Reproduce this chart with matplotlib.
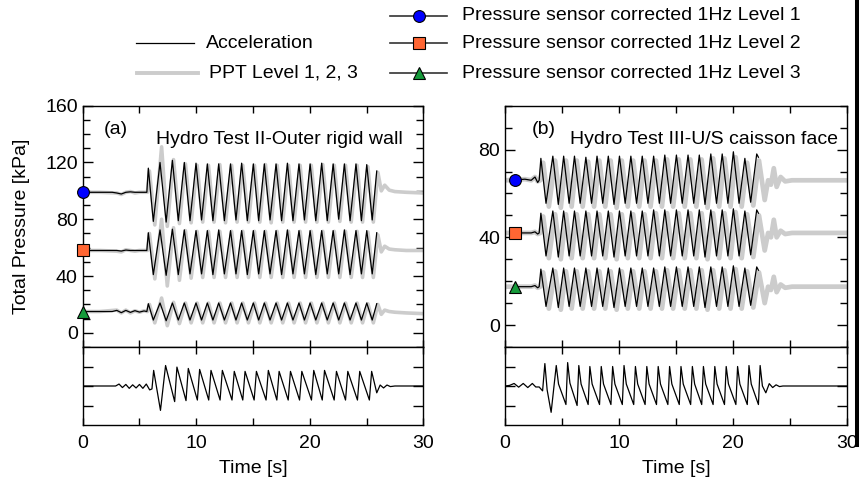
import matplotlib
matplotlib.use("Agg")
import matplotlib.pyplot as plt
from matplotlib.lines import Line2D
from matplotlib.ticker import MultipleLocator, FixedLocator, NullFormatter

plt.rcParams['font.family'] = ['Liberation Sans', 'DejaVu Sans']
plt.rcParams['font.size'] = 14

# ======================= DATA =======================
# ---- Panel (a): Hydro Test II - Outer rigid wall ----
a_pre_t  = [0.0, 2.6, 3.0, 3.4, 3.8, 4.2, 4.6, 5.0, 5.4, 5.65]
a_pre_L1 = [99, 99, 98.5, 97.8, 99, 99.3, 99, 99, 99, 99]
a_pre_L2 = [58, 58, 58, 57.6, 58.3, 58, 58, 58, 58, 58]
a_pre_L3 = [15, 15, 15.8, 14.2, 15.8, 14.4, 15.6, 14.6, 15.4, 15]
a_pk_t = [5.78, 6.81, 7.9, 8.95, 9.98, 10.98, 11.98, 13.02, 14.0, 15.03, 16.0,
          17.03, 18.03, 19.05, 20.03, 21.05, 22.06, 23.05, 24.07, 25.02, 25.9]
a_tr_t = [6.22, 7.35, 8.42, 9.45, 10.47, 11.47, 12.48, 13.5, 14.5, 15.5, 16.5,
          17.52, 18.52, 19.53, 20.53, 21.54, 22.55, 23.55, 24.55, 25.5]
a_L1_pk = [116, 120, 121.5, 120, 119.5, 119, 119, 119, 119.5, 119, 119, 119, 119.5,
           119, 119, 119.5, 119, 119, 119, 118.5, 114]
a_L1_tr = [78.5, 78, 79, 79, 79.5, 79, 79, 79.5, 79, 79, 79.5, 79, 79, 79.5, 79, 79,
           80, 79, 79, 79.5]
a_L2_pk = [70.5, 72.5, 73, 72.5, 72, 72, 72.5, 72, 72, 72, 72, 72, 72.5, 72, 72, 72,
           72, 72.5, 72, 72, 70.5]
a_L2_tr = [41, 40.5, 41, 41.5, 41.5, 41, 41.5, 41.5, 41, 41.5, 41.5, 41, 41.5, 41.5,
           41, 41.5, 41.5, 41, 41.5, 41.5]
a_L3_pk = [20.5, 21, 21, 21, 21, 21, 21, 21, 21, 21, 21, 21, 21, 21, 21, 21, 21, 21,
           21, 21, 20.5]
a_L3_tr = [9, 8.5, 9, 9, 9, 9, 9, 9, 9, 9, 9, 9, 9, 9, 9, 9, 9, 9, 9, 9]

# PPT (grey) panel (a)
ga_pre_t  = [0.0, 1.5, 3.0, 3.4, 3.8, 4.2, 4.6, 5.0, 5.4, 5.7]
ga_pre_L1 = [99, 99, 98.5, 97.5, 99, 99.5, 98.5, 99, 99, 99]
ga_pre_L2 = [58, 58, 57.5, 57, 58.5, 58, 57.5, 58, 58, 58]
ga_pre_L3 = [15, 15, 16, 14, 16, 14, 15.5, 14.5, 15.5, 15]
ga_pk_t = [5.88, 6.95, 8.0, 9.05, 10.08, 11.08, 12.08, 13.12, 14.1, 15.13, 16.1,
           17.13, 18.13, 19.15, 20.13, 21.15, 22.16, 23.15, 24.17, 25.12]
ga_tr_t = [6.35, 7.45, 8.52, 9.55, 10.57, 11.57, 12.58, 13.6, 14.6, 15.6, 16.6,
           17.62, 18.62, 19.63, 20.63, 21.64, 22.65, 23.65, 24.65, 25.6]
ga_L1_pk = [114, 131, 122, 119, 118, 118, 118.5, 118, 118, 118, 118.5, 118, 118, 118,
            118, 118.5, 118, 118, 118, 117]
ga_L1_tr = [76, 75, 77, 77.5, 78, 78, 77.5, 78, 78, 78, 77.5, 78, 78, 78, 78, 78,
            78.5, 78, 78, 78]
ga_L2_pk = [70, 80, 74, 72, 71.5, 71.5, 71.5, 71.5, 71.5, 71.5, 71.5, 71.5, 71.5,
            71.5, 71.5, 71.5, 71.5, 71.5, 71.5, 71]
ga_L2_tr = [38, 33, 37, 38.5, 39, 39, 39, 39, 39, 39, 39, 39, 39, 39, 39, 39, 39, 39,
            39, 39]
ga_L3_pk = [20, 24.5, 21.5, 21, 21, 21, 21, 21, 21, 21, 21, 21, 21, 21, 21, 21, 21,
            21, 21, 20.5]
ga_L3_tr = [7, 5, 6.5, 7, 7, 7, 7, 7, 7, 7, 7, 7, 7, 7, 7, 7, 7, 7, 7, 7]
ga_tail_t  = [26.0, 26.3, 26.6, 27.0, 27.5, 28.5, 30.0]
ga_tail_L1 = [113, 100, 104, 100.5, 99.5, 99, 98.5]
ga_tail_L2 = [69, 57, 61, 59, 58.5, 58, 58]
ga_tail_L3 = [20, 13, 16, 15, 14.5, 14, 13.5]

# Acceleration panel (a)
acc_a_pre_t = [0.0, 2.9, 3.2, 3.5, 3.8, 4.1, 4.4, 4.7, 5.0, 5.3, 5.6, 5.9, 6.1]
acc_a_pre   = [0, 0, 0.1, -0.08, 0.08, -0.12, 0.06, -0.1, 0.08, -0.12, 0.1, -0.2, -0.15]
acc_a_pk_t = [6.25, 7.3, 8.3, 9.3, 10.3, 11.3, 12.3, 13.35, 14.3, 15.3, 16.35, 17.3,
              18.3, 19.3, 20.35, 21.3, 22.35, 23.35, 24.4, 25.45]
acc_a_pk   = [0.8, 1.05, 0.97, 0.9, 0.85, 0.8, 0.8, 0.75, 0.75, 0.75, 0.8, 0.75, 0.75,
              0.75, 0.8, 0.8, 0.75, 0.75, 0.75, 0.75]
acc_a_tr_t = [6.85, 8.1, 9.1, 10.1, 11.1, 12.1, 13.15, 14.1, 15.1, 16.15, 17.1, 18.1,
              19.1, 20.15, 21.1, 22.15, 23.15, 24.2, 25.25, 25.9]
acc_a_tr   = [-1.25, -0.8, -0.75, -0.72, -0.72, -0.72, -0.72, -0.72, -0.72, -0.72,
              -0.72, -0.72, -0.72, -0.72, -0.72, -0.72, -0.72, -0.72, -0.72, -0.35]
acc_a_post_t = [26.2, 26.5, 26.8, 27.1, 27.5, 30.0]
acc_a_post   = [0.05, -0.1, 0.05, -0.03, 0, 0]

# ---- Panel (b): Hydro Test III - U/S caisson face ----
b_pre_t  = [0.88, 1.75, 2.3, 2.63, 2.87, 3.0]
b_pre_L1 = [66.2, 66.5, 66, 67.5, 65, 66]
b_pre_L2 = [42, 42, 42, 42.5, 41.5, 42]
b_pre_L3 = [17.5, 17.5, 17.5, 18, 17, 17.5]
b_pk_t = [3.15, 4.2, 5.15, 6.1, 7.1, 8.08, 9.07, 10.05, 11.05, 12.05, 13.05, 14.03,
          15.05, 16.07, 17.06, 18.07, 19.07, 20.05, 21.06, 22.1]
b_tr_t = [3.6, 4.68, 5.63, 6.6, 7.6, 8.58, 9.57, 10.55, 11.55, 12.55, 13.55, 14.54,
          15.56, 16.57, 17.56, 18.57, 19.57, 20.55, 21.57]
b_end_t = [22.25]
b_L1_pk = [76, 77, 77, 77, 76.5, 77, 77, 77, 77, 77, 77, 77.5, 77.5, 77.5, 77.5, 78,
           78, 79, 76, 78]
b_L1_tr = [55.5, 55, 55.5, 55.5, 55.5, 55.5, 55, 55.5, 55.5, 55.5, 55.5, 55.5, 55.5,
           55.5, 55, 55.5, 55.5, 55.5, 56]
b_L1_end = [76.5]
b_L2_pk = [51, 52, 52, 52, 52, 52, 52, 52, 52, 52, 52.5, 52.5, 52.5, 52.5, 52.5,
           52.5, 52.5, 53, 52, 52.5]
b_L2_tr = [31.5, 31, 31.5, 31.5, 31.5, 31.5, 31, 31.5, 31.5, 31.5, 31.5, 31.5, 31.5,
           31.5, 31, 31.5, 31.5, 31.5, 32]
b_L2_end = [51]
b_L3_pk = [25.5, 26, 26, 26, 26, 26, 26, 26, 26, 26, 26, 26.5, 26.5, 26.5, 26.5,
           26.5, 26.5, 27, 26, 26.5]
b_L3_tr = [8.5, 8, 8.5, 8.5, 8.5, 8.5, 8, 8.5, 8.5, 8.5, 8.5, 8.5, 8.5, 8.5, 8, 8.5,
           8.5, 8.5, 9]
b_L3_end = [25]

# PPT (grey) panel (b)
gb_pre_t  = [0.0, 0.88, 1.75, 2.3, 2.63, 2.87, 3.1]
gb_pre_L1 = [66, 66.2, 66.5, 66, 67.5, 65.5, 66]
gb_pre_L2 = [42, 42, 42, 42, 42.5, 41.5, 42]
gb_pre_L3 = [17.5, 17.5, 17.5, 17.5, 18, 17, 17.5]
gb_pk_t = [3.35, 4.4, 5.35, 6.3, 7.3, 8.28, 9.27, 10.25, 11.25, 12.25, 13.25, 14.23,
           15.25, 16.27, 17.26, 18.27, 19.27, 20.25, 21.26, 22.3]
gb_tr_t = [3.85, 4.9, 5.85, 6.82, 7.82, 8.8, 9.8, 10.78, 11.78, 12.78, 13.78, 14.76,
           15.78, 16.8, 17.78, 18.8, 19.8, 20.78, 21.8, 22.8]
gb_L1_pk = [74, 75, 75, 75, 74.5, 75, 75, 75, 75, 75, 75, 75.5, 75.5, 75.5, 75.5, 76,
            76, 76.5, 74, 75]
gb_L1_tr = [54, 53.5, 54, 54, 54, 54, 53.5, 54, 54, 54, 54, 54, 54, 54, 53.5, 54, 54,
            54, 54.5, 57]
gb_L2_pk = [49.5, 50.5, 50.5, 50.5, 50.5, 50.5, 50.5, 50.5, 50.5, 50.5, 51, 51, 51,
            51, 51, 51, 51, 51.5, 50.5, 50]
gb_L2_tr = [30.5, 30, 30.5, 30.5, 30.5, 30.5, 30, 30.5, 30.5, 30.5, 30.5, 30.5, 30.5,
            30.5, 30, 30.5, 30.5, 30.5, 31, 34]
gb_L3_pk = [24, 24.5, 24.5, 24.5, 24.5, 24.5, 24.5, 24.5, 24.5, 24.5, 24.5, 25, 25,
            25, 25, 25, 25, 25.5, 24.5, 24]
gb_L3_tr = [7.5, 7, 7.5, 7.5, 7.5, 7.5, 7, 7.5, 7.5, 7.5, 7.5, 7.5, 7.5, 7.5, 7, 7.5,
            7.5, 7.5, 8, 10]
gb_tail_t  = [23.1, 23.35, 23.6, 23.85, 24.2, 24.6, 25.2, 30.0]
gb_tail_L1 = [66, 64, 71.5, 63, 67.5, 65.5, 66, 66]
gb_tail_L2 = [42, 40, 48, 40, 43, 41.5, 42, 42]
gb_tail_L3 = [17.5, 16, 22, 15, 18.5, 17, 17.5, 17.5]

# Acceleration panel (b)
acc_b_pre_t = [0.0, 0.4, 0.8, 1.2, 1.6, 2.0, 2.4, 2.7, 3.0, 3.3]
acc_b_pre   = [0, 0.03, 0.13, -0.06, 0.13, -0.08, 0.13, -0.05, -0.05, -0.25]
acc_b_pk_t = [3.5, 4.5, 5.5, 6.48, 7.45, 8.45, 9.45, 10.45, 11.45, 12.45, 13.45,
              14.45, 15.45, 16.45, 17.42, 18.42, 19.42, 20.42, 21.42, 22.4]
acc_b_pk   = [1.15, 1.05, 1.2, 1.05, 1.0, 1.0, 1.0, 1.05, 1.0, 1.0, 1.0, 1.0, 1.0,
              1.0, 1.0, 1.0, 1.0, 1.0, 1.05, 1.05]
acc_b_sh_t = [3.7, 4.7, 5.7, 6.68, 7.65, 8.65, 9.65, 10.65, 11.65, 12.65, 13.65,
              14.65, 15.65, 16.65, 17.62, 18.62, 19.62, 20.62, 21.62, 22.6]
acc_b_sh   = [-0.2, 0.1, 0.15, 0.1, 0.1, 0.1, 0.1, 0.1, 0.1, 0.1, 0.1, 0.1, 0.1, 0.1,
              0.1, 0.1, 0.1, 0.1, 0.1, 0.0]
acc_b_tr_t = [4.05, 5.35, 6.33, 7.3, 8.3, 9.3, 10.3, 11.3, 12.3, 13.3, 14.3, 15.3,
              16.3, 17.27, 18.27, 19.27, 20.27, 21.27, 22.25, 22.9]
acc_b_tr   = [-1.35, -0.95, -1.0, -0.95, -0.95, -0.95, -0.95, -0.95, -0.95, -0.95,
              -0.95, -0.95, -0.95, -0.95, -0.95, -0.95, -0.95, -0.95, -0.95, -0.35]
acc_b_post_t = [23.2, 23.5, 23.8, 24.1, 24.4, 30.0]
acc_b_post   = [0.12, -0.08, 0.06, -0.03, 0, 0]

legend_left = ["Acceleration", "PPT Level 1, 2, 3"]
legend_right = ["Pressure sensor corrected 1Hz Level 1",
                "Pressure sensor corrected 1Hz Level 2",
                "Pressure sensor corrected 1Hz Level 3"]
title_a = "Hydro Test II-Outer rigid wall"
title_b = "Hydro Test III-U/S caisson face"

# ======================= STYLE =======================
W, H = 863, 486
C_BLUE, C_ORANGE, C_GREEN = "#0000ff", "#ff6633", "#159a3a"
C_GREY = "#cccccc"
MARKERS = [("o", C_BLUE), ("s", C_ORANGE), ("^", C_GREEN)]


def build(pre_t, pre_v, pk_t, pk_v, tr_t, tr_v, post_t=(), post_v=(), sh_t=None, sh_v=None):
    t, v = list(pre_t), list(pre_v)
    for i in range(len(pk_t)):
        t.append(pk_t[i]); v.append(pk_v[i])
        if sh_t is not None:
            t.append(sh_t[i]); v.append(sh_v[i])
        if i < len(tr_t):
            t.append(tr_t[i]); v.append(tr_v[i])
    t += list(post_t); v += list(post_v)
    return t, v


fig = plt.figure(figsize=(W / 100, H / 100), dpi=100)


def px_rect(x0, y0, x1, y1):
    return [x0 / W, 1 - y1 / H, (x1 - x0) / W, (y1 - y0) / H]


axA = fig.add_axes(px_rect(82.7, 105.7, 423.3, 347))
axAa = fig.add_axes(px_rect(82.7, 347, 423.3, 425))
axB = fig.add_axes(px_rect(505, 105.7, 846.7, 347))
axBa = fig.add_axes(px_rect(505, 347, 846.7, 425))


def style_axes(ax):
    for s in ax.spines.values():
        s.set_linewidth(1.0)
    ax.set_xlim(0, 30)
    ax.xaxis.set_major_locator(MultipleLocator(10))
    ax.xaxis.set_minor_locator(MultipleLocator(5))
    ax.tick_params(which="both", direction="in", top=True, bottom=True, left=True,
                   right=True, width=1.0, labelsize=14)
    ax.tick_params(axis="x", which="both", length=5)
    ax.tick_params(axis="y", which="major", length=7)
    ax.tick_params(axis="y", which="minor", length=5)


def panel(ax, axacc, blacks, greys, acc, ylim, title, tag, grey_lw):
    style_axes(ax)
    style_axes(axacc)
    for (gt, gv) in greys:
        ax.plot(gt, gv, color=C_GREY, lw=grey_lw, solid_joinstyle="round", zorder=2)
    for (bt, bv), (m, c) in zip(blacks, MARKERS):
        ax.plot(bt, bv, color="black", lw=0.9, zorder=3)
        ax.plot([bt[0]], [bv[0]], linestyle="none", marker=m, ms=8.5, mfc=c,
                mec="black", mew=0.8, zorder=5, clip_on=False)
    ax.set_ylim(*ylim)
    ax.yaxis.set_major_locator(MultipleLocator(40))
    ax.yaxis.set_minor_locator(MultipleLocator(10))
    ax.tick_params(labelbottom=False)
    ax.text(0.94 if tag == "(a)" else 0.975, 0.858, title, transform=ax.transAxes,
            ha="right", va="center", fontsize=14)
    ax.text(0.062 if tag == "(a)" else 0.078, 0.9, tag, transform=ax.transAxes,
            ha="left", va="center", fontsize=14)

    axacc.plot(acc[0], acc[1], color="black", lw=0.9)
    axacc.set_ylim(-2, 2)
    axacc.yaxis.set_major_locator(FixedLocator([-1, 0, 1]))
    axacc.yaxis.set_minor_locator(FixedLocator([]))
    axacc.yaxis.set_major_formatter(NullFormatter())
    axacc.tick_params(axis="x", pad=7)
    axacc.set_xlabel("Time [s]", fontsize=14)
    axacc.xaxis.set_label_coords(0.5, -0.45)


# ---- panel (a)
blk_a = [build(a_pre_t, a_pre_L1, a_pk_t, a_L1_pk, a_tr_t, a_L1_tr),
         build(a_pre_t, a_pre_L2, a_pk_t, a_L2_pk, a_tr_t, a_L2_tr),
         build(a_pre_t, a_pre_L3, a_pk_t, a_L3_pk, a_tr_t, a_L3_tr)]
gry_a = [build(ga_pre_t, ga_pre_L1, ga_pk_t, ga_L1_pk, ga_tr_t, ga_L1_tr, ga_tail_t, ga_tail_L1),
         build(ga_pre_t, ga_pre_L2, ga_pk_t, ga_L2_pk, ga_tr_t, ga_L2_tr, ga_tail_t, ga_tail_L2),
         build(ga_pre_t, ga_pre_L3, ga_pk_t, ga_L3_pk, ga_tr_t, ga_L3_tr, ga_tail_t, ga_tail_L3)]
acc_a = build(acc_a_pre_t, acc_a_pre, acc_a_pk_t, acc_a_pk, acc_a_tr_t, acc_a_tr,
              acc_a_post_t, acc_a_post)
panel(axA, axAa, blk_a, gry_a, acc_a, (-10, 160), title_a, "(a)", 2.6)
axA.set_ylabel("Total Pressure [kPa]", fontsize=14)
axA.yaxis.set_label_coords(-0.155, 0.5)

# ---- panel (b)
blk_b = [build(b_pre_t, b_pre_L1, b_pk_t, b_L1_pk, b_tr_t, b_L1_tr, b_end_t, b_L1_end),
         build(b_pre_t, b_pre_L2, b_pk_t, b_L2_pk, b_tr_t, b_L2_tr, b_end_t, b_L2_end),
         build(b_pre_t, b_pre_L3, b_pk_t, b_L3_pk, b_tr_t, b_L3_tr, b_end_t, b_L3_end)]
gry_b = [build(gb_pre_t, gb_pre_L1, gb_pk_t, gb_L1_pk, gb_tr_t, gb_L1_tr, gb_tail_t, gb_tail_L1),
         build(gb_pre_t, gb_pre_L2, gb_pk_t, gb_L2_pk, gb_tr_t, gb_L2_tr, gb_tail_t, gb_tail_L2),
         build(gb_pre_t, gb_pre_L3, gb_pk_t, gb_L3_pk, gb_tr_t, gb_L3_tr, gb_tail_t, gb_tail_L3)]
acc_b = build(acc_b_pre_t, acc_b_pre, acc_b_pk_t, acc_b_pk, acc_b_tr_t, acc_b_tr,
              acc_b_post_t, acc_b_post, acc_b_sh_t, acc_b_sh)
panel(axB, axBa, blk_b, gry_b, acc_b, (-10, 100), title_b, "(b)", 3.4)

# ---- figure legend (drawn in figure pixel positions)
def fx(x):
    return x / W


def fy(y):
    return 1 - y / H


fig.add_artist(Line2D([fx(136), fx(194)], [fy(43), fy(43)], color="black", lw=0.9))
fig.text(fx(206), fy(43), legend_left[0], ha="left", va="center", fontsize=14)
fig.add_artist(Line2D([fx(137), fx(198)], [fy(73), fy(73)], color=C_GREY, lw=2.8))
fig.text(fx(209), fy(73), legend_left[1], ha="left", va="center", fontsize=14)
for (m, c), lab, yy in zip(MARKERS, legend_right, [16, 43, 73]):
    fig.add_artist(Line2D([fx(390), fx(447)], [fy(yy), fy(yy)], color="#333333", lw=1.2))
    fig.add_artist(Line2D([fx(419)], [fy(yy)], linestyle="none", marker=m, ms=8.5,
                          mfc=c, mec="black", mew=0.8))
    fig.text(fx(462), fy(yy), lab, ha="left", va="center", fontsize=14)

# right border bar present in the reference image
fig.add_artist(Line2D([fx(856.5), fx(856.5)], [1.0, fy(445)], color="black", lw=2.9,
                      zorder=20))

fig.savefig("out.png", dpi=100)
